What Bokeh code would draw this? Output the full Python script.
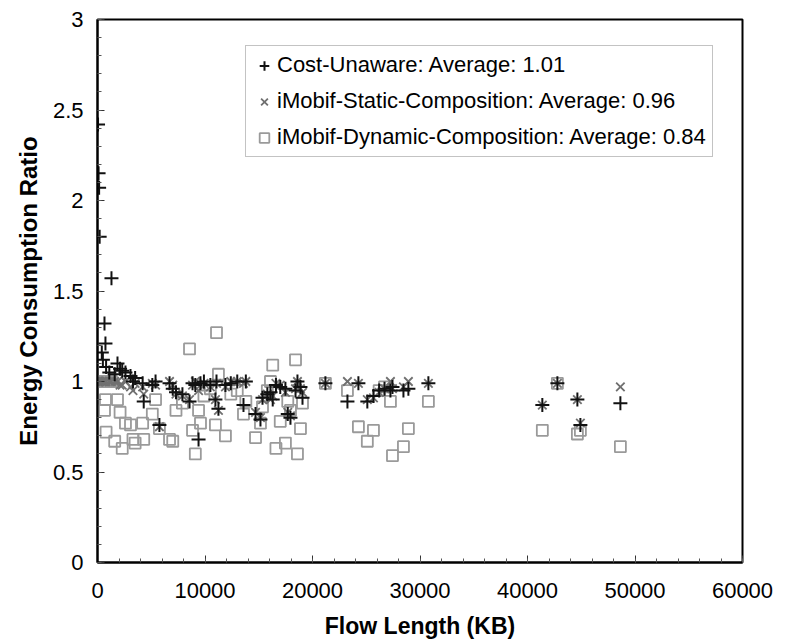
from bokeh.plotting import figure
from bokeh.models import (Range1d, SingleIntervalTicker, Legend, LegendItem, ColumnDataSource)
from bokeh.embed import file_html
from bokeh.resources import INLINE

# Flow lengths (KB) and energy consumption ratios of each scheme
flow_kb = [50, 100, 150, 200, 740, 1300, 650, 400, 500, 800, 1100, 1860, 2100, 2600,
           3070, 3500, 1600, 2300, 3300, 4200, 4300, 5100, 5400, 5760, 6700, 7000,
           7300, 7900, 8560, 8840, 9100, 9400, 9580, 9900, 10500, 10970, 11070, 11250,
           11900, 12400, 13000, 13580, 13800, 14700, 15160, 15350, 15800, 16090, 16300,
           16600, 17000, 17480, 17700, 17950, 18420, 18600, 18880, 19070, 21200, 23250,
           24270, 25100, 25670, 26200, 26700, 27250, 27440, 28460, 28920, 30780, 41380,
           42780, 44640, 44920, 48640]
cost_unaware = [2.42, 2.15, 2.07, 1.80, 1.21, 1.57, 1.32, 1.16, 1.12, 1.08, 1.05, 1.10,
                1.07, 1.05, 1.03, 1.02, 1.04, 1.06, 1.00, 0.99, 0.89, 0.98, 1.00, 0.76,
                0.99, 0.96, 0.94, 0.93, 0.89, 0.99, 0.98, 0.68, 0.99, 1.00, 0.98, 0.90,
                1.00, 0.85, 0.98, 0.99, 1.00, 0.87, 1.00, 0.82, 0.79, 0.91, 0.93, 0.94,
                0.90, 0.98, 0.97, 0.96, 0.82, 0.80, 0.95, 1.00, 0.97, 0.91, 0.99, 0.89,
                0.99, 0.89, 0.92, 0.95, 0.96, 0.95, 0.97, 0.95, 0.96, 0.99, 0.87, 0.99,
                0.90, 0.76, 0.88]
static_comp = [1.00, 1.00, 1.00, 1.00, 1.00, 1.00, 1.00, 1.00, 1.00, 1.00, 1.00, 1.00,
               0.98, 1.00, 0.97, 0.99, 1.00, 0.98, 0.95, 0.97, 0.93, 0.99, 0.98, 0.75,
               1.00, 0.98, 0.93, 0.92, 0.90, 0.98, 1.00, 0.95, 0.98, 0.99, 0.97, 0.90,
               0.99, 0.84, 0.97, 1.00, 1.00, 0.99, 1.00, 0.83, 0.80, 0.90, 0.93, 0.90,
               0.92, 0.99, 0.98, 0.94, 0.83, 0.81, 0.96, 1.00, 0.96, 0.94, 0.99, 1.00,
               0.99, 0.90, 0.91, 0.94, 0.96, 1.00, 0.96, 0.97, 1.00, 0.99, 0.87, 0.99,
               0.90, 0.77, 0.97]
dynamic_comp = [1.00, 1.00, 1.00, 1.00, 0.90, 1.00, 0.84, 1.00, 1.00, 0.72, 1.00, 0.90,
                0.83, 0.77, 0.76, 0.66, 0.67, 0.63, 0.68, 0.77, 0.68, 0.82, 0.90, 0.74,
                0.68, 0.67, 0.84, 0.88, 1.18, 0.73, 0.60, 0.84, 0.77, 0.92, 0.96, 0.76,
                1.27, 1.04, 0.70, 0.93, 0.95, 0.82, 0.89, 0.69, 0.77, 0.86, 0.95, 1.00,
                1.09, 0.63, 0.78, 0.66, 0.89, 0.84, 1.12, 0.60, 0.74, 0.88, 0.99, 0.95,
                0.75, 0.67, 0.73, 0.95, 0.97, 0.89, 0.59, 0.64, 0.74, 0.89, 0.73, 0.99,
                0.71, 0.73, 0.64]

legend_labels = ["Cost-Unaware: Average: 1.01",
                 "iMobif-Static-Composition: Average: 0.96",
                 "iMobif-Dynamic-Composition: Average: 0.84"]

FONT = "Liberation Sans"

src = ColumnDataSource(dict(x=flow_kb, c=cost_unaware, s=static_comp, d=dynamic_comp))

p = figure(width=792, height=639, output_backend="svg", toolbar_location=None,
           x_range=Range1d(0, 60000), y_range=Range1d(0, 3))
p.frame_width = 645
p.frame_height = 543
p.min_border_left = 97
p.min_border_right = 50
p.min_border_top = 19
p.min_border_bottom = 77
p.background_fill_color = "white"
p.border_fill_color = "white"
p.outline_line_color = "black"
p.outline_line_width = 2
p.xgrid.visible = False
p.ygrid.visible = False

r_dyn = p.scatter("x", "d", source=src, marker="square", size=11, fill_color=None,
                  line_color="#9a9a9a", line_width=1.8)
r_sta = p.scatter("x", "s", source=src, marker="x", size=12,
                  line_color="#707070", line_width=1.8)
r_cost = p.scatter("x", "c", source=src, marker="cross", size=14,
                   line_color="#111111", line_width=2)

for ax, interval in ((p.xaxis[0], 10000), (p.yaxis[0], 0.5)):
    ax.ticker = SingleIntervalTicker(interval=interval, num_minor_ticks=5)
    ax.axis_line_width = 2
    ax.axis_line_color = "black"
    ax.major_tick_in = 7
    ax.major_tick_out = 0
    ax.minor_tick_in = 4
    ax.minor_tick_out = 0
    ax.major_tick_line_color = "#333333"
    ax.minor_tick_line_color = "#555555"
    ax.major_label_text_font = FONT
    ax.major_label_text_font_size = "22px"
    ax.major_label_text_color = "black"
    ax.axis_label_text_font = FONT
    ax.axis_label_text_font_size = "23px"
    ax.axis_label_text_font_style = "bold"
    ax.axis_label_text_color = "black"

p.yaxis[0].axis_label_text_font_size = "24px"
p.xaxis[0].axis_label = "Flow Length (KB)"
p.yaxis[0].axis_label = "Energy Consumption Ratio"
p.xaxis[0].major_label_standoff = 20
p.yaxis[0].major_label_standoff = 14
p.xaxis[0].axis_label_standoff = 12
p.yaxis[0].axis_label_standoff = 8

legend = Legend(items=[LegendItem(label=legend_labels[0], renderers=[r_cost]),
                       LegendItem(label=legend_labels[1], renderers=[r_sta]),
                       LegendItem(label=legend_labels[2], renderers=[r_dyn])],
                location=(148, 405))
legend.margin = 0
legend.padding = 6
legend.spacing = 10
legend.glyph_width = 24
legend.glyph_height = 25
legend.label_height = 25
legend.label_standoff = 1
legend.label_text_font = FONT
legend.label_text_font_size = "22px"
legend.label_text_color = "black"
legend.border_line_color = "#888888"
legend.border_line_width = 1.5
legend.background_fill_color = "white"
legend.background_fill_alpha = 1
p.add_layout(legend, "center")

open("out.html", "w").write(file_html(p, INLINE))
